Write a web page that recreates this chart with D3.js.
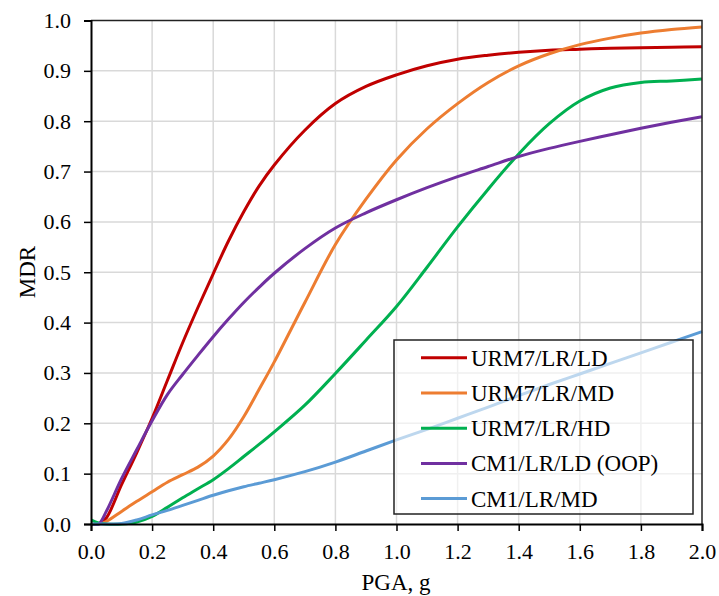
<!DOCTYPE html>
<html><head><meta charset="utf-8">
<script src="https://cdn.jsdelivr.net/npm/d3@7"></script>
<style>body{margin:0;background:#fff}svg{display:block}</style>
</head><body>
<svg id="c" width="719" height="596"></svg>
<script>
// PGA (g) sample points shared by all series
const pga = [0, 0.025, 0.05, 0.1, 0.15, 0.2, 0.25, 0.3, 0.35, 0.4, 0.45, 0.5, 0.55, 0.6, 0.7, 0.8, 0.9, 1.0, 1.1, 1.2, 1.3, 1.4, 1.5, 1.6, 1.7, 1.8, 1.9, 2.0];
const urm7LrLd = [0, 0, 0.012, 0.078, 0.142, 0.21, 0.285, 0.36, 0.43, 0.497, 0.562, 0.62, 0.671, 0.713, 0.782, 0.835, 0.869, 0.892, 0.91, 0.923, 0.931, 0.937, 0.941, 0.943, 0.945, 0.946, 0.947, 0.948];
const urm7LrMd = [0, 0, 0.005, 0.025, 0.045, 0.064, 0.083, 0.098, 0.113, 0.135, 0.168, 0.213, 0.267, 0.322, 0.44, 0.555, 0.645, 0.723, 0.785, 0.835, 0.877, 0.91, 0.934, 0.952, 0.965, 0.975, 0.982, 0.987];
const urm7LrHd = [0.008, 0.002, 0, 0, 0.004, 0.015, 0.033, 0.052, 0.07, 0.088, 0.11, 0.134, 0.158, 0.183, 0.236, 0.299, 0.365, 0.432, 0.51, 0.59, 0.665, 0.735, 0.795, 0.84, 0.866, 0.877, 0.88, 0.884];
const cm1LrLdOop = [0, 0, 0.025, 0.09, 0.148, 0.205, 0.257, 0.297, 0.335, 0.372, 0.407, 0.44, 0.47, 0.498, 0.547, 0.588, 0.618, 0.644, 0.668, 0.69, 0.71, 0.73, 0.746, 0.76, 0.773, 0.786, 0.798, 0.809];
const cm1LrMd = [0, 0, 0, 0.001, 0.008, 0.018, 0.027, 0.037, 0.047, 0.057, 0.066, 0.074, 0.081, 0.088, 0.104, 0.123, 0.145, 0.167, 0.188, 0.21, 0.232, 0.255, 0.277, 0.298, 0.319, 0.34, 0.361, 0.382];
const seriesNames = ["URM7/LR/LD", "URM7/LR/MD", "URM7/LR/HD", "CM1/LR/LD (OOP)", "CM1/LR/MD"];
const seriesColors = ["#C00000", "#ED7D31", "#00B050", "#7030A0", "#5B9BD5"];
const xTicks = [0, 0.2, 0.4, 0.6, 0.8, 1.0, 1.2, 1.4, 1.6, 1.8, 2.0];
const yTicks = [0, 0.1, 0.2, 0.3, 0.4, 0.5, 0.6, 0.7, 0.8, 0.9, 1.0];
const xTitle = "PGA, g";
const yTitle = "MDR";

const seriesValues = [urm7LrLd, urm7LrMd, urm7LrHd, cm1LrLdOop, cm1LrMd];
const series = seriesNames.map((n, i) => ({name: n, color: seriesColors[i], pts: pga.map((p, j) => [p, seriesValues[i][j]])}));

const L = 91, R = 702, T = 20.5, B = 524;
const font = "'Liberation Serif','Times New Roman',serif";
const svg = d3.select("#c");
const x = d3.scaleLinear().domain([0, 2]).range([L, R]);
const y = d3.scaleLinear().domain([0, 1]).range([B, T]);

// grid
const g = svg.append("g").attr("stroke", "#d9d9d9").attr("stroke-width", 1.5);
g.selectAll(".gx").data(xTicks.slice(1, -1)).join("line")
  .attr("x1", d => x(d)).attr("x2", d => x(d)).attr("y1", T).attr("y2", B);
g.selectAll(".gy").data(yTicks.slice(1, -1)).join("line")
  .attr("y1", d => y(d)).attr("y2", d => y(d)).attr("x1", L).attr("x2", R);

// lines
svg.append("defs").append("clipPath").attr("id", "clip")
  .append("rect").attr("x", L).attr("y", T - 2).attr("width", R - L + 2).attr("height", B - T + 4);
const line = d3.line().x(d => x(d[0])).y(d => y(d[1])).curve(d3.curveCatmullRom.alpha(0.5));
svg.append("g").attr("clip-path", "url(#clip)").selectAll("path").data(series).join("path")
  .attr("d", d => line(d.pts)).attr("fill", "none")
  .attr("stroke", d => d.color).attr("stroke-width", 3).attr("stroke-linejoin", "round");

// frame top/right
svg.append("path").attr("d", `M${L},${T}H${R}V${B}`).attr("fill", "none").attr("stroke", "#222").attr("stroke-width", 1.5);

// axes
const fmt = d3.format(".1f");
const ax = svg.append("g").attr("transform", `translate(0,${B})`)
  .call(d3.axisBottom(x).tickValues(xTicks).tickFormat(fmt).tickSize(7).tickPadding(12));
const ay = svg.append("g").attr("transform", `translate(${L},0)`)
  .call(d3.axisLeft(y).tickValues(yTicks).tickFormat(fmt).tickSize(7).tickPadding(13));
[ax, ay].forEach(a => {
  a.select(".domain").attr("stroke", "#000").attr("stroke-width", 2);
  a.selectAll(".tick line").attr("stroke", "#000").attr("stroke-width", 1.5);
  a.selectAll(".tick text").attr("font-family", font).attr("font-size", 22).attr("fill", "#000");
});

// legend
const lg = svg.append("g");
lg.append("rect").attr("x", 394).attr("y", 340).attr("width", 299).attr("height", 174)
  .attr("fill", "#fff").attr("fill-opacity", 0.6).attr("stroke", "#222").attr("stroke-width", 1.5);
const rows = lg.selectAll("g").data(series).join("g")
  .attr("transform", (d, i) => `translate(0,${357.8 + i * 35.2})`);
rows.append("line").attr("x1", 421).attr("x2", 467).attr("stroke", d => d.color).attr("stroke-width", 3);
rows.append("text").attr("x", 471).attr("dy", "0.35em").text(d => d.name)
  .attr("font-family", font).attr("font-size", 23).attr("fill", "#000");

// titles
svg.append("text").attr("x", 396).attr("y", 590).attr("text-anchor", "middle")
  .attr("font-family", font).attr("font-size", 23).text(xTitle);
svg.append("text").attr("transform", "translate(35,272) rotate(-90)").attr("text-anchor", "middle")
  .attr("font-family", font).attr("font-size", 23).text(yTitle);
</script>
</body></html>
